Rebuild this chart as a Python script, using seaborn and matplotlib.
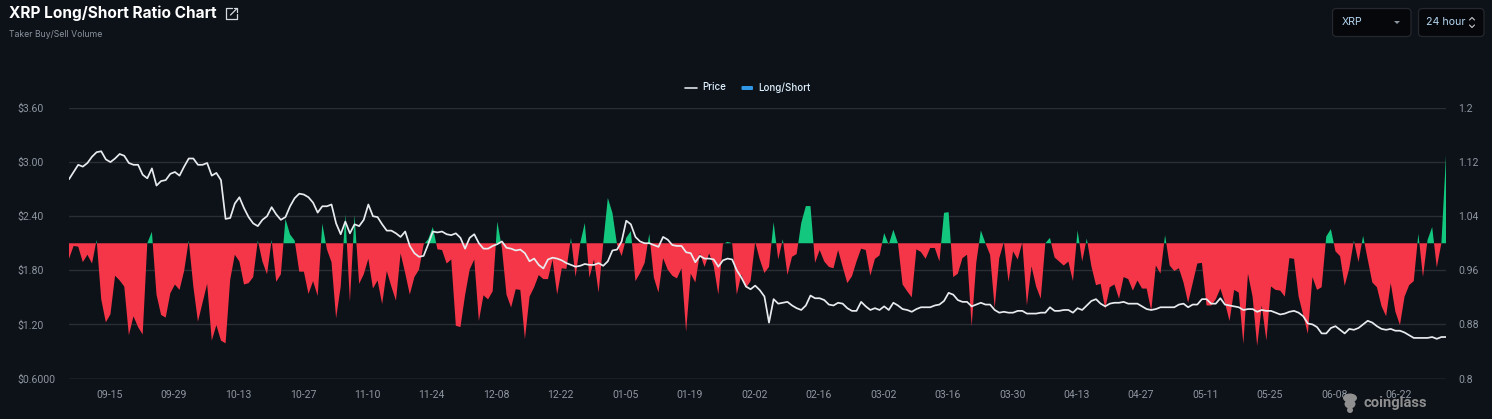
import numpy as np
import pandas as pd
import matplotlib
matplotlib.use("Agg")
import matplotlib.pyplot as plt
import matplotlib.transforms as mtrans
import seaborn as sns
from matplotlib.lines import Line2D
from matplotlib.patches import FancyBboxPatch, Polygon, Ellipse

# Daily taker long/short ratio
long_short = [
    0.977, 0.996, 0.995, 0.972, 0.983, 0.970, 1.005, 0.917, 0.883, 0.895,
    0.952, 0.945, 0.936, 0.864, 0.892, 0.876, 0.865, 1.000, 1.017, 0.924,
    0.894, 0.890, 0.926, 0.939, 0.931, 0.959, 1.004, 0.936, 0.884, 0.912,
    0.940, 0.856, 0.879, 0.856, 0.852, 0.946, 0.983, 0.973, 0.939, 0.941,
    0.950, 1.004, 0.973, 0.954, 1.005, 0.943, 0.954, 1.036, 1.013, 1.004,
    0.958, 0.958, 0.925, 0.944, 0.922, 1.029, 0.991, 0.972, 0.889, 0.936,
    1.043, 0.913, 1.042, 0.940, 0.954, 0.977, 0.933, 0.945, 0.910, 0.959,
    0.936, 0.915, 0.985, 0.956, 0.924, 0.950, 0.961, 0.998, 1.006, 1.024,
    0.991, 0.990, 0.970, 0.976, 0.878, 0.876, 0.923, 0.961, 0.976, 0.885,
    0.923, 0.917, 0.929, 1.032, 0.993, 0.924, 0.905, 0.932, 0.931, 0.858,
    0.921, 0.935, 0.953, 0.947, 0.947, 0.976, 0.924, 0.963, 0.962, 1.008,
    0.950, 1.000, 1.030, 0.949, 0.976, 0.927, 1.000, 1.067, 1.045, 0.998,
    0.981, 1.008, 1.018, 0.944, 0.956, 0.971, 1.014, 0.949, 0.927, 0.978,
    0.961, 0.952, 0.948, 0.963, 0.869, 0.955, 0.942, 0.985, 0.965, 0.985,
    0.966, 0.924, 0.999, 1.002, 1.000, 0.924, 0.954, 0.934, 0.944, 1.002,
    0.976, 0.956, 0.965, 1.031, 0.976, 1.006, 0.953, 0.980, 0.984, 1.030,
    1.055, 1.055, 0.971, 0.990, 0.973, 0.965, 0.963, 0.990, 0.965, 0.941,
    0.951, 0.973, 0.992, 0.990, 0.952, 0.977, 0.982, 1.015, 0.998, 1.020,
    1.000, 0.939, 0.929, 0.920, 0.991, 0.987, 0.977, 0.993, 0.993, 0.973,
    1.045, 1.046, 0.950, 0.955, 0.978, 0.983, 0.877, 0.971, 1.019, 1.000,
    0.983, 0.904, 0.978, 1.002, 0.943, 0.988, 0.976, 1.001, 0.908, 0.966,
    0.936, 0.918, 1.000, 1.008, 0.979, 0.973, 0.967, 0.973, 0.944, 1.019,
    0.973, 1.007, 0.966, 0.938, 0.940, 0.903, 0.935, 0.939, 0.918, 0.950,
    0.947, 0.930, 0.945, 0.933, 0.933, 0.900, 0.967, 0.955, 1.012, 0.967,
    0.959, 0.963, 0.942, 0.912, 0.941, 0.970, 0.971, 0.908, 0.908, 0.917,
    0.933, 0.912, 0.885, 0.931, 0.927, 0.851, 0.955, 0.921, 0.848, 0.908,
    0.856, 0.936, 0.931, 0.930, 0.921, 0.978, 0.977, 0.921, 0.894, 0.866,
    0.950, 0.931, 0.935, 1.010, 1.021, 0.988, 0.981, 0.937, 0.963, 1.004,
    0.972, 1.011, 0.976, 0.942, 0.935, 0.907, 0.892, 0.941, 0.899, 0.879,
    0.921, 0.938, 0.944, 1.014, 0.950, 1.005, 1.024, 0.964, 1.000, 1.130,
]

# Daily XRP price in USD
price = [
    2.81, 2.89, 2.97, 2.95, 2.99, 3.06, 3.11, 3.12, 3.03, 3.00,
    3.04, 3.09, 3.07, 2.99, 2.97, 2.97, 2.86, 2.82, 2.93, 2.74,
    2.79, 2.80, 2.87, 2.89, 2.85, 2.95, 3.04, 3.04, 2.97, 2.97,
    2.99, 2.85, 2.88, 2.80, 2.37, 2.38, 2.54, 2.61, 2.49, 2.39,
    2.32, 2.29, 2.36, 2.40, 2.50, 2.42, 2.36, 2.39, 2.51, 2.60,
    2.65, 2.64, 2.61, 2.55, 2.44, 2.51, 2.51, 2.53, 2.32, 2.20,
    2.34, 2.21, 2.31, 2.29, 2.36, 2.53, 2.40, 2.39, 2.31, 2.24,
    2.24, 2.21, 2.17, 2.23, 2.07, 1.99, 1.95, 1.96, 2.09, 2.23,
    2.22, 2.23, 2.20, 2.19, 2.21, 2.16, 2.04, 2.16, 2.20, 2.10,
    2.04, 2.04, 2.07, 2.09, 2.12, 2.05, 2.04, 2.02, 2.03, 1.99,
    1.90, 1.93, 1.86, 1.82, 1.92, 1.94, 1.93, 1.91, 1.88, 1.86,
    1.84, 1.85, 1.87, 1.86, 1.86, 1.88, 1.85, 1.90, 2.02, 2.03,
    2.12, 2.35, 2.31, 2.17, 2.12, 2.10, 2.10, 2.08, 2.06, 2.17,
    2.14, 2.08, 2.07, 2.07, 2.00, 1.99, 1.89, 1.96, 1.93, 1.93,
    1.92, 1.84, 1.91, 1.93, 1.92, 1.80, 1.72, 1.62, 1.59, 1.63,
    1.58, 1.51, 1.22, 1.48, 1.43, 1.44, 1.45, 1.41, 1.38, 1.36,
    1.41, 1.52, 1.49, 1.49, 1.47, 1.42, 1.41, 1.44, 1.43, 1.38,
    1.35, 1.35, 1.45, 1.40, 1.36, 1.38, 1.36, 1.40, 1.36, 1.44,
    1.41, 1.37, 1.36, 1.34, 1.37, 1.39, 1.39, 1.39, 1.41, 1.42,
    1.46, 1.55, 1.53, 1.47, 1.45, 1.45, 1.40, 1.42, 1.44, 1.42,
    1.42, 1.36, 1.33, 1.34, 1.33, 1.33, 1.35, 1.35, 1.32, 1.32,
    1.32, 1.33, 1.33, 1.39, 1.35, 1.35, 1.36, 1.36, 1.33, 1.38,
    1.36, 1.41, 1.46, 1.48, 1.43, 1.40, 1.43, 1.44, 1.44, 1.45,
    1.43, 1.43, 1.43, 1.40, 1.37, 1.36, 1.37, 1.39, 1.39, 1.39,
    1.39, 1.42, 1.43, 1.39, 1.42, 1.42, 1.48, 1.48, 1.43, 1.43,
    1.49, 1.42, 1.41, 1.40, 1.39, 1.36, 1.37, 1.37, 1.34, 1.36,
    1.35, 1.35, 1.33, 1.31, 1.32, 1.34, 1.35, 1.33, 1.29, 1.21,
    1.20, 1.17, 1.10, 1.10, 1.16, 1.18, 1.14, 1.10, 1.15, 1.14,
    1.16, 1.20, 1.24, 1.22, 1.18, 1.15, 1.14, 1.15, 1.13, 1.13,
    1.11, 1.08, 1.05, 1.05, 1.05, 1.05, 1.06, 1.04, 1.06, 1.06,
]

date_labels = ["09-15", "09-29", "10-13", "10-27", "11-10", "11-24", "12-08",
               "12-22", "01-05", "01-19", "02-02", "02-16", "03-02", "03-16",
               "03-30", "04-13", "04-27", "05-11", "05-25", "06-08", "06-22"]
price_ticks = [0.6, 1.2, 1.8, 2.4, 3.0, 3.6]
price_labels = ["$0.6000", "$1.20", "$1.80", "$2.40", "$3.00", "$3.60"]
ratio_ticks = [0.8, 0.88, 0.96, 1.04, 1.12, 1.2]
ratio_labels = ["0.8", "0.88", "0.96", "1.04", "1.12", "1.2"]

BG = "#0d1118"
GRID = "#2a2d34"
TICK = "#8d96a0"
RED = "#f43648"
GREEN = "#14c77f"

W, H = 1492, 419
sns.set_theme(style="dark")
plt.rcParams["font.family"] = ["Roboto", "DejaVu Sans"]

df = pd.DataFrame({
    "date": pd.date_range("2024-09-06", periods=len(price), freq="D"),
    "price": price,
    "ratio": long_short,
})

fig = plt.figure(figsize=(W / 100, H / 100), dpi=100, facecolor=BG)
ax = fig.add_axes([69 / W, 1 - 378.5 / H, (1446 - 69) / W, (378.5 - 108) / H])
ax.set_facecolor(BG)
for side in ax.spines.values():
    side.set_visible(False)

# Ratio area, split into green and red around the neutral 1.0 level
ratio = df["ratio"].to_numpy()
ax.fill_between(df["date"], ratio, 1.0, where=ratio <= 1.0, interpolate=True,
                color=RED, linewidth=0, zorder=2)
ax.fill_between(df["date"], ratio, 1.0, where=ratio >= 1.0, interpolate=True,
                color=GREEN, linewidth=0, zorder=2)
ax.set_ylim(0.8, 1.2)
ax.set_xlim(df["date"].iloc[0], df["date"].iloc[-1])
ax.set_xticks(df["date"].iloc[9::14][:len(date_labels)], date_labels)
ax.tick_params(axis="x", length=0, pad=8.5, labelsize=7.6, labelcolor=TICK)
ax.grid(axis="y", color=GRID, linewidth=1.0, zorder=1)
ax.grid(axis="x", visible=False)
ax.set_axisbelow(True)
ax.axhline(0.8, color="#383d45", linewidth=1.0, zorder=1)

# Nudge date labels one pixel left of their nominal tick
nudge = mtrans.ScaledTranslation(-1 / 100, 0, fig.dpi_scale_trans)
for lab in ax.get_xticklabels():
    lab.set_transform(lab.get_transform() + nudge)

# Price line on its own scale, drawn over the area
ax_price = ax.twinx()
ax_price.patch.set_visible(False)
sns.lineplot(data=df, x="date", y="price", ax=ax_price, color="#e8ebee",
             linewidth=1.25, legend=False, zorder=5)
ax_price.set_ylim(0.6, 3.6)
ax_price.set_xlim(df["date"].iloc[0], df["date"].iloc[-1])
ax_price.yaxis.tick_left()
ax_price.set_yticks(price_ticks, price_labels)
ax_price.tick_params(axis="y", length=0, pad=37.4, labelsize=7.6, labelcolor=TICK)
for lab in ax_price.get_yticklabels():
    lab.set_ha("left")
ax_price.set_xlabel("")
ax_price.set_ylabel("")
ax_price.grid(False)
for side in ax_price.spines.values():
    side.set_visible(False)

# Ratio scale sits on the right; twinx resets it, so configure it last
ax.yaxis.tick_right()
ax.set_yticks(ratio_ticks, ratio_labels)
ax.tick_params(axis="y", length=0, pad=8.6, labelsize=7.6, labelcolor=TICK,
               left=False, labelleft=False, right=False, labelright=True)

# Header, legend and controls placed in pixel coordinates on a full-figure layer
ui = fig.add_axes([0, 0, 1, 1], zorder=10)
ui.set_xlim(0, W)
ui.set_ylim(H, 0)
ui.axis("off")

ui.text(9, 13.5, "XRP Long/Short Ratio Chart", color="#ffffff", fontsize=11.1,
        fontweight="bold", family=["Inter", "DejaVu Sans"], va="center", ha="left")
ui.text(9, 34.5, "Taker Buy/Sell Volume", color="#8b949e", fontsize=6.25,
        family=["Inter", "DejaVu Sans"], va="center", ha="left")

# Open-in-new icon
ui.plot([232, 226, 226, 236.5, 236.5], [8.5, 8.5, 19.5, 19.5, 14], color="#d5d8dc", lw=0.9)
ui.plot([230.5, 237], [15, 8.5], color="#d5d8dc", lw=0.9)
ui.plot([233.5, 237, 237], [8.5, 8.5, 12], color="#d5d8dc", lw=0.9)

# Legend
ui.add_line(Line2D([685, 697], [88, 88], color="#dfe3e6", lw=1.2))
ui.text(702, 87.5, "Price", color="#dff2ff", fontsize=7.0, fontweight="medium",
        family=["Inter", "DejaVu Sans"], va="center", ha="left")
ui.add_patch(FancyBboxPatch((741.5, 86), 11.5, 4, boxstyle="round,pad=0,rounding_size=1",
                            fc="#2f97e6", ec="none"))
ui.text(758, 87.5, "Long/Short", color="#dff2ff", fontsize=7.0, fontweight="medium",
        family=["Inter", "DejaVu Sans"], va="center", ha="left")

# Selector boxes
for x0, x1 in [(1332.5, 1411), (1418.5, 1484)]:
    ui.add_patch(FancyBboxPatch((x0, 8.5), x1 - x0, 28, boxstyle="round,pad=0,rounding_size=4",
                                fc="#05070b", ec="#25282f", lw=0.9))
ui.text(1342, 22, "XRP", color="#b6d8f2", fontsize=7.6, va="center", ha="left",
        family=["Inter", "DejaVu Sans"])
ui.add_patch(Polygon([[1394, 21], [1400, 21], [1397, 24]], fc="#8d96a0", ec="none"))
ui.text(1426, 22, "24 hour", color="#b6d8f2", fontsize=7.6, va="center", ha="left",
        family=["Inter", "DejaVu Sans"])
ui.plot([1469.5, 1472, 1474.5], [20, 17.5, 20], color="#c5c9cd", lw=0.8)
ui.plot([1469.5, 1472, 1474.5], [25, 27.5, 25], color="#c5c9cd", lw=0.8)

# Watermark
mark = "#8f8f8f"
for cx, cy, w, h in [(1350, 398, 14, 9), (1350, 404, 11, 9), (1350, 410, 6, 6)]:
    ui.add_patch(Ellipse((cx, cy), w, h, fc=mark, ec="none"))
ui.text(1364, 403, "coinglass", color=mark, fontsize=10.6, fontweight="bold",
        family=["Roboto", "DejaVu Sans"], va="center", ha="left")

fig.savefig("out.png", dpi=100, facecolor=BG)
